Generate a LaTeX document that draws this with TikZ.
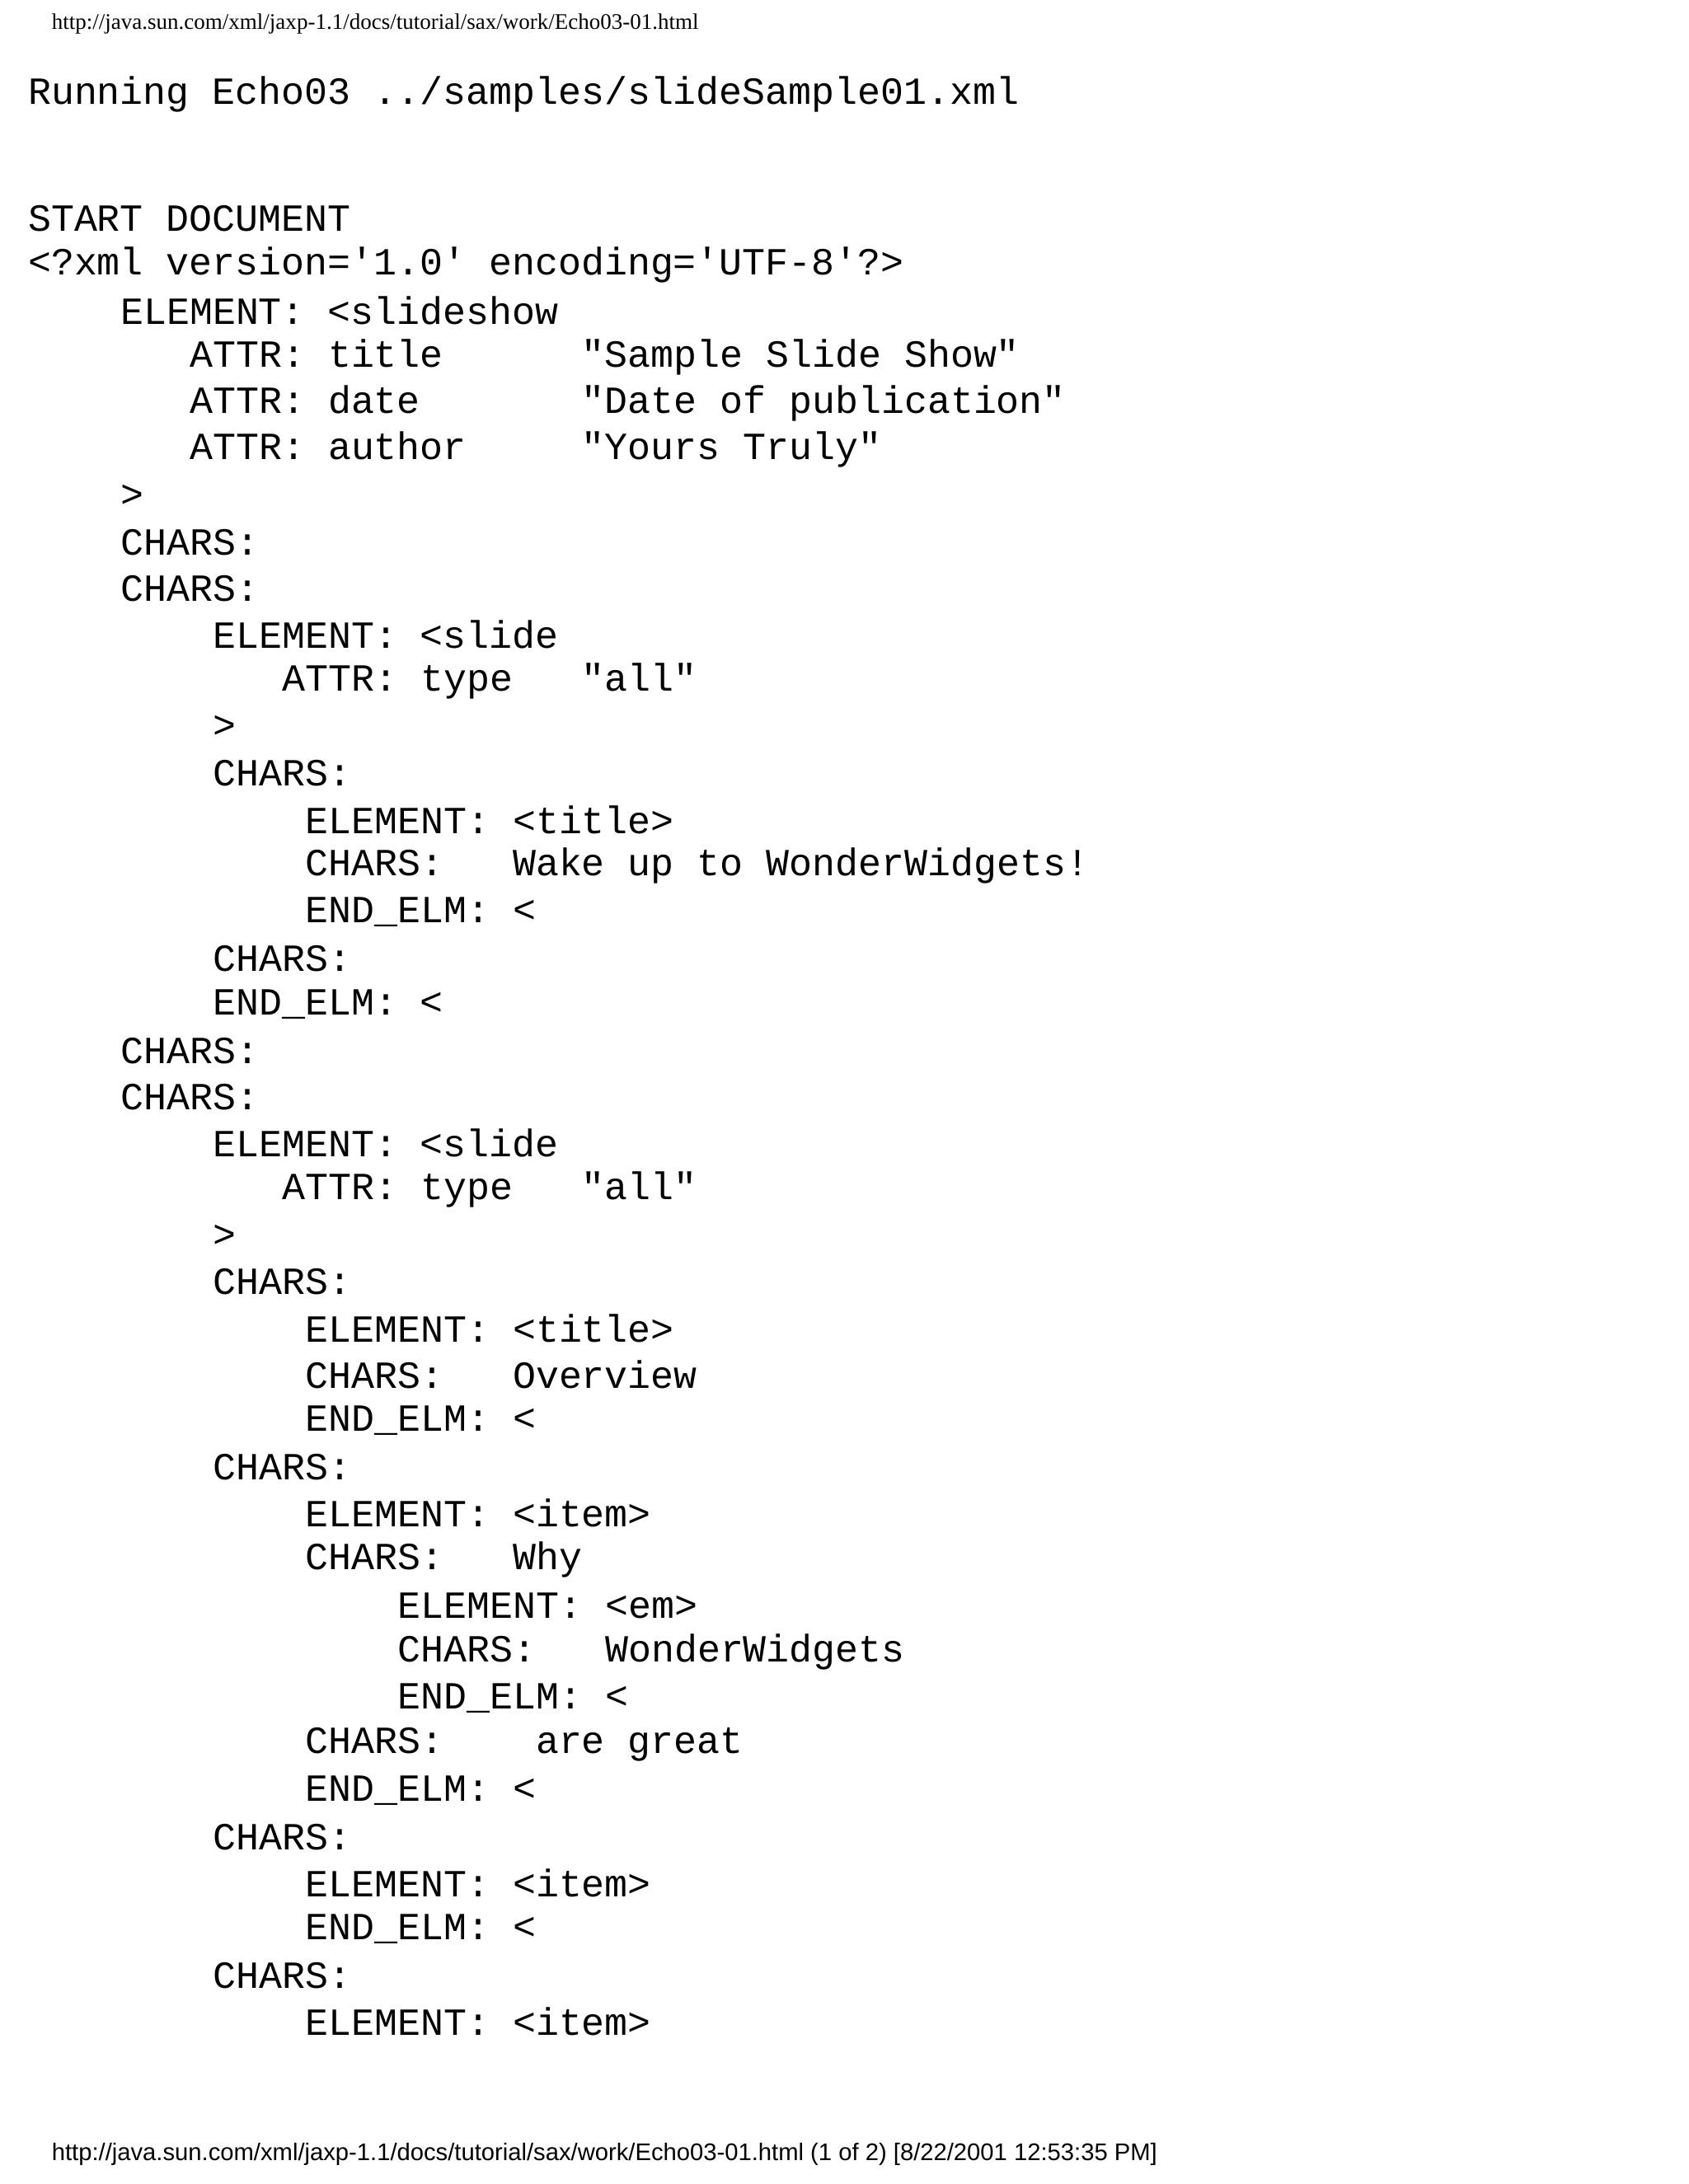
\documentclass[tikz,border=0pt]{standalone}
\usepackage{fontspec}
\setmainfont{Liberation Serif}
\newfontfamily\monof{Liberation Mono}
\newfontfamily\sansf{Liberation Sans}
\begin{document}
\begin{tikzpicture}[x=1pt,y=-1pt,
  ln/.style={anchor=west,inner sep=0pt,font=\monof\fontsize{27.6}{30}\selectfont},
  hdr/.style={anchor=west,inner sep=0pt,font=\fontsize{16}{18}\selectfont},
  ftr/.style={anchor=west,inner sep=0pt,font=\sansf\fontsize{17.3}{19}\selectfont}]
\useasboundingbox[fill=white] (0,0) rectangle (1213,1569.5);
\node[hdr] (h) at (37,17) {http://java.sun.com/xml/jaxp-1.1/docs/tutorial/sax/work/Echo03-01.html};
\node[ln] (r) at (20,68) {Running Echo03 ../samples/slideSample01.xml};
\foreach [count=\i from 0] \c/\t in {
 0/START DOCUMENT,
 0/<?xml version='1.0' encoding='UTF-8'?>,
 4/ELEMENT: <slideshow,
 7/ATTR: title~~~~~~"Sample Slide Show",
 7/ATTR: date~~~~~~~"Date of publication",
 7/ATTR: author~~~~~"Yours Truly",
 4/>,
 4/CHARS:,
 4/CHARS:,
 8/ELEMENT: <slide,
 11/ATTR: type~~~"all",
 8/>,
 8/CHARS:,
 12/ELEMENT: <title>,
 12/CHARS:~~~Wake up to WonderWidgets!,
 12/END\_ELM: </title>,
 8/CHARS:,
 8/END\_ELM: </slide>,
 4/CHARS:,
 4/CHARS:,
 8/ELEMENT: <slide,
 11/ATTR: type~~~"all",
 8/>,
 8/CHARS:,
 12/ELEMENT: <title>,
 12/CHARS:~~~Overview,
 12/END\_ELM: </title>,
 8/CHARS:,
 12/ELEMENT: <item>,
 12/CHARS:~~~Why,
 16/ELEMENT: <em>,
 16/CHARS:~~~WonderWidgets,
 16/END\_ELM: </em>,
 12/CHARS:~~~~are great,
 12/END\_ELM: </item>,
 8/CHARS:,
 12/ELEMENT: <item>,
 12/END\_ELM: </item>,
 8/CHARS:,
 12/ELEMENT: <item>}
 \node[ln] (l\i) at ({20+\c*16.6},{157+\i*33.23}) {\t};
\node[ftr] (f) at (37,1548) {http://java.sun.com/xml/jaxp-1.1/docs/tutorial/sax/work/Echo03-01.html (1 of 2) [8/22/2001 12:53:35 PM]};
\end{tikzpicture}
\end{document}
